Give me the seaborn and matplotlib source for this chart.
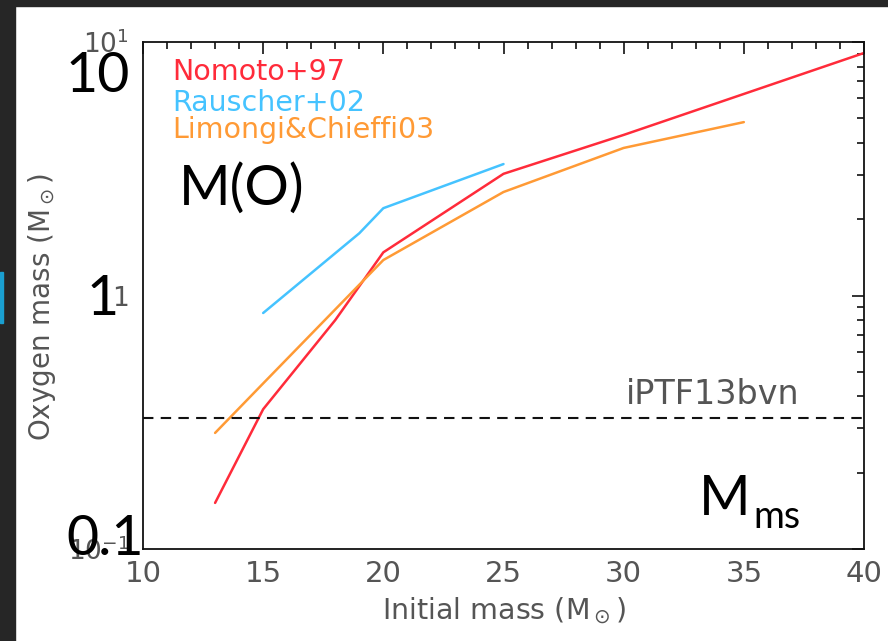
import matplotlib
matplotlib.use("Agg")
import matplotlib.pyplot as plt
from matplotlib.patches import Rectangle
from matplotlib.ticker import MultipleLocator, LogLocator, FixedLocator, FixedFormatter, NullFormatter
import numpy as np
import pandas as pd
import seaborn as sns

# Oxygen yields vs. initial (main-sequence) mass for three nucleosynthesis models
nomoto_mass = [13, 15, 18, 20, 25, 30, 40]
nomoto_oxygen = [0.152, 0.356, 0.80, 1.48, 3.02, 4.3, 9.05]

rauscher_mass = [15, 19, 20, 25]
rauscher_oxygen = [0.853, 1.76, 2.21, 3.30]

limongi_mass = [13, 15, 20, 25, 30, 35]
limongi_oxygen = [0.287, 0.45, 1.38, 2.56, 3.82, 4.83]

model_names = ["Nomoto+97", "Rauscher+02", "Limongi&Chieffi03"]
model_colors = ["#ff2b3a", "#45c3ff", "#ff9a35"]

iptf13bvn_oxygen = 0.33

x_ticks = [10, 15, 20, 25, 30, 35, 40]
y_ticks = [0.1, 1, 10]
y_tick_labels = [r"$10^{-1}$", "1", r"$10^{1}$"]

df = pd.concat([
    pd.DataFrame({"mass": nomoto_mass, "oxygen": nomoto_oxygen, "model": model_names[0]}),
    pd.DataFrame({"mass": rauscher_mass, "oxygen": rauscher_oxygen, "model": model_names[1]}),
    pd.DataFrame({"mass": limongi_mass, "oxygen": limongi_oxygen, "model": model_names[2]}),
], ignore_index=True)

sns.set_style("white")
plt.rcParams["font.family"] = ["DejaVu Sans"]
plt.rcParams["mathtext.default"] = "regular"

W, H = 888, 641
fig = plt.figure(figsize=(W / 100, H / 100), dpi=100, facecolor="white")


def fx(px):
    return px / W


def fy(py):
    return 1 - py / H


# slide frame around the figure
fig.add_artist(Rectangle((0, 0), fx(15), 1, transform=fig.transFigure, color="#262626", zorder=0))
fig.add_artist(Rectangle((0, fy(6)), 1, 6 / H, transform=fig.transFigure, color="#262626", zorder=0))
fig.add_artist(Rectangle((0, fy(323)), fx(2.5), 51 / H, transform=fig.transFigure, color="#1a9fd0", zorder=1))

ax = fig.add_axes([fx(143), fy(549), fx(864) - fx(143), fy(42) - fy(549)])
ax.set_facecolor("white")

sns.lineplot(data=df, x="mass", y="oxygen", hue="model", hue_order=model_names,
             palette=model_colors, estimator=None, sort=False, legend=False,
             linewidth=1.8, ax=ax)

ax.axhline(iptf13bvn_oxygen, color="#111111", linestyle=(0, (5, 3.5)), linewidth=1.5)

ax.set_yscale("log")
ax.set_xlim(10, 40)
ax.set_ylim(0.1, 10)

ax.xaxis.set_major_locator(FixedLocator(x_ticks))
ax.xaxis.set_minor_locator(MultipleLocator(1))
ax.yaxis.set_major_locator(FixedLocator(y_ticks))
ax.yaxis.set_major_formatter(FixedFormatter(y_tick_labels))
ax.yaxis.set_minor_locator(LogLocator(base=10, subs=np.arange(2, 10)))
ax.yaxis.set_minor_formatter(NullFormatter())

gray = "#555555"
ax.tick_params(which="both", direction="in", top=True, right=True, colors="#111111",
               labelcolor=gray, width=1.2)
ax.tick_params(axis="x", labelsize=21, pad=8)
ax.tick_params(axis="y", labelsize=19, pad=10)
ax.tick_params(which="major", length=8.5)
ax.tick_params(which="minor", length=5)

for s in ax.spines.values():
    s.set_color("#111111")
    s.set_linewidth(1.3)

ax.set_xlabel(r"Initial mass (M$_\odot$)", fontsize=20.5, color=gray)
ax.set_ylabel(r"Oxygen mass (M$_\odot$)", fontsize=20, color=gray)
ax.xaxis.set_label_coords(0.5, -0.092)
ax.yaxis.set_label_coords(-0.118, 0.476)

# model names as coloured text labels
for name, color, base in zip(model_names, model_colors, [80, 111, 138]):
    fig.text(fx(172), fy(base), name, color=color, fontsize=20.5, ha="left", va="baseline")

fig.text(fx(626), fy(404), "iPTF13bvn", color=gray, fontsize=24, ha="left", va="baseline")

# large annotations
big = dict(color="black", family=["Lato", "DejaVu Sans"], va="baseline", ha="left")
fig.text(fx(66), fy(92), "10", fontsize=40, **big)
fig.text(fx(87), fy(315), "1", fontsize=40, **big)
fig.text(fx(66), fy(555), "0.1", fontsize=40, **big)
fig.text(fx(179), fy(205), "M(O)", fontsize=40, **big)
fig.text(fx(699), fy(515), "M", fontsize=40, **big)
fig.text(fx(753), fy(528), "ms", fontsize=27, **big)

fig.savefig("out.png", dpi=100, facecolor="white")
